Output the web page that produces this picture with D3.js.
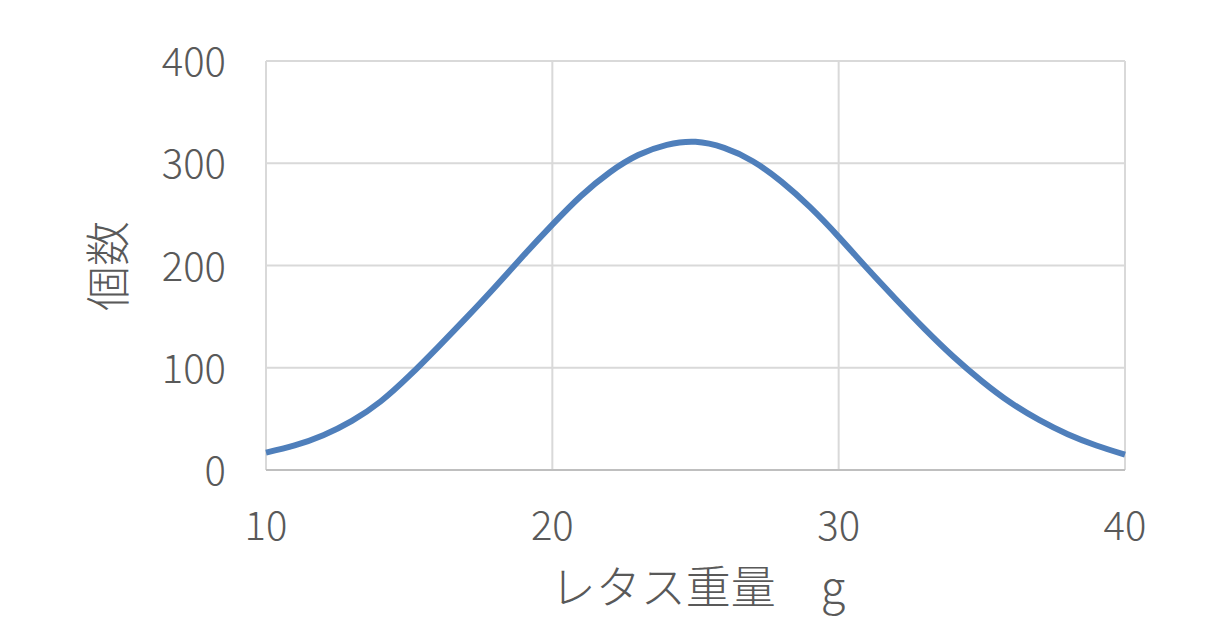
<!DOCTYPE html>
<html>
<head>
<meta charset="utf-8">
<script src="https://cdn.jsdelivr.net/npm/d3@7/dist/d3.min.js"></script>
<style>
  html, body { margin: 0; padding: 0; background: #ffffff; }
  svg { display: block; }
  text { font-family: "Noto Sans CJK JP", "Noto Sans", sans-serif; fill: #595959; }
</style>
</head>
<body>
<svg id="chart" width="1210" height="633"></svg>
<script>
// Data
const weights = [10,11,12,13,14,15,16,17,18,19,20,21,22,23,24,25,26,27,28,29,30,31,32,33,34,35,36,37,38,39,40];
const counts  = [17,24,34,48,67,92,120,149,179,210,240,268,291,308,318,321,315,302,282,257,228,197,167,138,111,87,66,49,35,24,15];
const xTicks = [10,20,30,40];
const yTicks = [0,100,200,300,400];
const xTitle = "レタス重量　g";
const yTitle = "個数";

(function () {
const svg = d3.select("#chart");
const pLeft = 266, pRight = 1125, pTop = 61, pBottom = 470;

const x = d3.scaleLinear().domain([10,40]).range([pLeft,pRight]);
const y = d3.scaleLinear().domain([0,400]).range([pBottom,pTop]);

// Horizontal gridlines
svg.append("g").selectAll("line").data(yTicks.filter(d => d !== 0)).join("line")
  .attr("x1", pLeft).attr("x2", pRight)
  .attr("y1", d => y(d)).attr("y2", d => y(d))
  .attr("stroke", "#d9d9d9").attr("stroke-width", 2);

// Vertical gridlines
svg.append("g").selectAll("line").data(xTicks).join("line")
  .attr("x1", d => x(d)).attr("x2", d => x(d))
  .attr("y1", pTop).attr("y2", pBottom)
  .attr("stroke", "#d9d9d9").attr("stroke-width", 2);

// Bottom axis line
svg.append("line")
  .attr("x1", pLeft).attr("x2", pRight)
  .attr("y1", y(0)).attr("y2", y(0))
  .attr("stroke", "#bfbfbf").attr("stroke-width", 2);

// Y tick labels
svg.append("g").selectAll("text").data(yTicks).join("text")
  .attr("x", 226).attr("y", d => y(d) - 2)
  .attr("text-anchor", "end").attr("dominant-baseline", "central")
  .attr("font-size", 40).attr("font-weight", 300)
  .text(d => d);

// X tick labels
svg.append("g").selectAll("text").data(xTicks).join("text")
  .attr("x", d => x(d)).attr("y", 523)
  .attr("text-anchor", "middle").attr("dominant-baseline", "central")
  .attr("font-size", 40).attr("font-weight", 300)
  .text(d => d);

// Axis titles
svg.append("text")
  .attr("x", 698).attr("y", 584)
  .attr("text-anchor", "middle").attr("dominant-baseline", "central")
  .attr("font-size", 45).attr("font-weight", 300)
  .text(xTitle);

svg.append("text")
  .attr("transform", "translate(105,266) rotate(-90)")
  .attr("text-anchor", "middle").attr("dominant-baseline", "central")
  .attr("font-size", 45).attr("font-weight", 300)
  .text(yTitle);

// Curve
const line = d3.line()
  .x((d,i) => x(weights[i]))
  .y(d => y(d))
  .curve(d3.curveNatural);

svg.append("path")
  .datum(counts)
  .attr("d", line)
  .attr("fill", "none")
  .attr("stroke", "#4f7fbb")
  .attr("stroke-width", 6)
  .attr("stroke-linejoin", "round");
})();
</script>
</body>
</html>
